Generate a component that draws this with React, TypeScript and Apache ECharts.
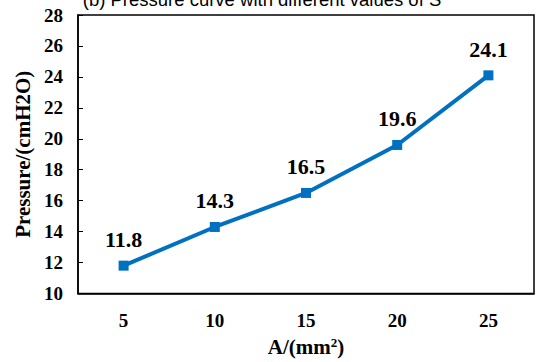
import React, { useEffect, useRef } from "react";
import * as echarts from "echarts";

const categories = ["5", "10", "15", "20", "25"];
const pressure = [11.8, 14.3, 16.5, 19.6, 24.1];
const yMin = 10;
const yMax = 28;
const yInterval = 2;
const titleText = "(b) Pressure curve with different values of S";

export default function App() {
  const ref = useRef<HTMLDivElement>(null);
  useEffect(() => {
    if (!ref.current) return;
    const chart = echarts.init(ref.current, null, { renderer: "svg" });
    const serif = "Liberation Serif";
    chart.setOption({
      animation: false,
      backgroundColor: "#fff",
      graphic: [
        {
          type: "text",
          x: 262,
          y: 9,
          style: {
            text: titleText,
            fontFamily: "Liberation Sans",
            fontSize: 18.5,
            fill: "#000",
            textAlign: "center",
            textVerticalAlign: "bottom",
          },
        },
      ],
      grid: {
        left: 78,
        right: 2,
        top: 15,
        bottom: 66,
        show: true,
        borderColor: "#000",
        borderWidth: 1.5,
        backgroundColor: "transparent",
      },
      xAxis: {
        type: "category",
        data: categories,
        boundaryGap: true,
        name: "A/(mm{sup|2})",
        nameLocation: "middle",
        nameGap: 42,
        nameTextStyle: {
          fontFamily: serif,
          fontWeight: "bold",
          fontSize: 21,
          color: "#000",
          rich: {
            sup: {
              fontFamily: serif,
              fontWeight: "bold",
              fontSize: 13,
              color: "#000",
              verticalAlign: "top",
              padding: [0, 0, 9, 0],
            },
          },
        },
        axisLine: { lineStyle: { color: "#000", width: 1.5 } },
        axisTick: { inside: true, length: 5, lineStyle: { color: "#000", width: 1 } },
        axisLabel: {
          margin: 17,
          fontFamily: serif,
          fontWeight: "bold",
          fontSize: 19,
          color: "#000",
        },
        splitLine: { show: false },
      },
      yAxis: {
        type: "value",
        min: yMin,
        max: yMax,
        interval: yInterval,
        name: "Pressure/(cmH2O)",
        nameLocation: "middle",
        nameGap: 43,
        nameTextStyle: {
          fontFamily: serif,
          fontWeight: "bold",
          fontSize: 21,
          color: "#000",
        },
        axisLine: { show: true, lineStyle: { color: "#000", width: 1.5 } },
        axisTick: { show: true, inside: true, length: 5, lineStyle: { color: "#000", width: 1 } },
        axisLabel: {
          margin: 15,
          fontFamily: serif,
          fontWeight: "bold",
          fontSize: 19,
          color: "#000",
        },
        splitLine: { show: false },
      },
      series: [
        {
          type: "line",
          data: pressure,
          symbol: "rect",
          symbolSize: 10,
          lineStyle: { color: "#0070C0", width: 4 },
          itemStyle: { color: "#0070C0" },
          label: {
            show: true,
            position: "top",
            distance: 10,
            fontFamily: serif,
            fontWeight: "bold",
            fontSize: 22,
            color: "#000",
          },
        },
      ],
    });
    return () => chart.dispose();
  }, []);
  return (
    <div
      ref={ref}
      style={{ position: "fixed", left: 0, top: 0, width: 536, height: 362 }}
    />
  );
}
